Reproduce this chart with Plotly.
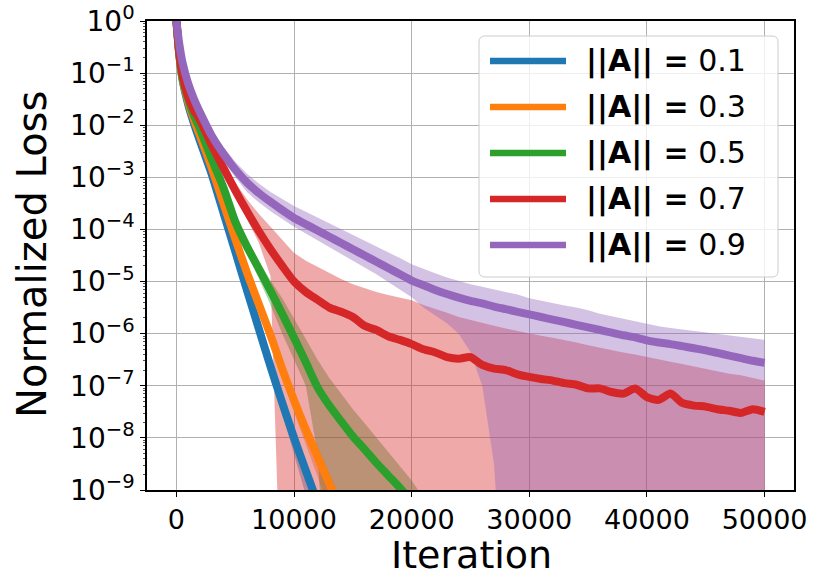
import numpy as np
import plotly.graph_objects as go

# DATOS: pérdida normalizada en log10 (media, borde superior e inferior de la banda)
# -12 significa que la banda llega a cero (queda por debajo del eje)

ETIQUETAS = ["0.1", "0.3", "0.5", "0.7", "0.9"]
COLORES = ["#1f77b4", "#ff7f0e", "#2ca02c", "#d62728", "#9467bd"]

ITER_01 = [0, 250, 500, 1000, 1500, 2000, 3000, 4000, 5000, 6000, 7000, 8000,
           9000, 10000, 11000, 12000, 13000]
LOG_MEDIA_01 = [0, -0.65, -1.10, -1.60, -1.97, -2.30, -2.94, -3.68, -4.42, -5.17,
                -5.90, -6.63, -7.33, -8.00, -8.63, -9.25, -9.90]
LOG_SUP_01 = [0, -0.63, -1.07, -1.56, -1.93, -2.26, -2.90, -3.63, -4.36, -5.10,
              -5.82, -6.54, -7.22, -7.88, -8.50, -9.10, -9.75]
LOG_INF_01 = [0, -0.67, -1.13, -1.64, -2.01, -2.34, -2.98, -3.73, -4.48, -5.25,
              -5.99, -6.75, -7.50, -8.30, -9.10, -12, -12]

ITER_03 = [0, 250, 500, 1000, 1500, 2000, 3000, 4000, 5000, 6000, 7000, 8000,
           9000, 10000, 11000, 12000, 13000, 14000]
LOG_MEDIA_03 = [0, -0.65, -1.08, -1.55, -1.90, -2.20, -2.82, -3.50, -4.18, -4.83,
                -5.43, -6.03, -6.68, -7.28, -7.84, -8.36, -8.88, -9.40]
LOG_SUP_03 = [0, -0.63, -1.05, -1.51, -1.86, -2.16, -2.77, -3.44, -4.11, -4.75,
              -5.33, -5.91, -6.54, -7.12, -7.66, -8.16, -8.68, -9.20]
LOG_INF_03 = [0, -0.67, -1.11, -1.59, -1.94, -2.24, -2.87, -3.56, -4.25, -4.92,
              -5.54, -6.17, -6.86, -7.51, -8.14, -8.74, -9.43, -12]

ITER_05 = [0, 250, 500, 1000, 1500, 2000, 3000, 4000, 5000, 6000, 7000, 8000,
           9000, 10000, 11000, 12000, 13000, 14000, 15000, 16000, 17000, 18000,
           19000, 20000, 21000]
LOG_MEDIA_05 = [0, -0.65, -1.07, -1.50, -1.82, -2.07, -2.65, -3.20, -3.85, -4.33,
                -4.75, -5.18, -5.62, -6.08, -6.55, -7.03, -7.38, -7.68, -7.97,
                -8.22, -8.48, -8.72, -8.96, -9.22, -9.50]
LOG_SUP_05 = [0, -0.63, -1.04, -1.46, -1.78, -2.03, -2.60, -3.14, -3.77, -4.22,
              -4.60, -4.98, -5.32, -5.70, -6.10, -6.50, -6.85, -7.15, -7.45,
              -7.72, -8.00, -8.28, -8.55, -8.82, -9.15]
LOG_INF_05 = [0, -0.67, -1.10, -1.54, -1.86, -2.11, -2.70, -3.26, -3.92, -4.45,
              -4.95, -5.45, -6.00, -6.50, -7.00, -8.30, -12, -12, -12,
              -12, -12, -12, -12, -12, -12]

ITER_LARGO = [0, 250, 500, 1000, 1500, 2000,
              3000, 4000, 5000, 6000, 7000, 8000, 9000, 10000,
              11000, 12000, 13000, 14000, 15000, 16000, 17000, 18000, 19000, 20000,
              21000, 22000, 23000, 24000, 25000, 26000, 27000, 28000, 29000, 30000,
              31000, 32000, 33000, 34000, 35000, 36000, 37000, 38000, 39000, 40000,
              41000, 42000, 43000, 44000, 45000, 46000, 47000, 48000, 49000, 50000]

LOG_MEDIA_07 = [0, -0.62, -1.00, -1.45, -1.72, -1.90,
                -2.38, -2.82, -3.25, -3.65, -4.03, -4.38, -4.70, -5.00,
                -5.20, -5.35, -5.50, -5.58, -5.68, -5.85, -5.93, -6.05, -6.12, -6.20,
                -6.30, -6.36, -6.45, -6.48, -6.45, -6.60, -6.67, -6.70, -6.78, -6.83,
                -6.87, -6.90, -6.95, -6.98, -7.05, -7.05, -7.12, -7.15, -7.05, -7.22,
                -7.27, -7.15, -7.33, -7.38, -7.40, -7.45, -7.48, -7.52, -7.45, -7.50]
LOG_SUP_07 = [0, -0.60, -0.97, -1.41, -1.68, -1.86,
              -2.32, -2.72, -3.10, -3.42, -3.70, -3.95, -4.20, -4.45,
              -4.60, -4.72, -4.84, -4.95, -5.05, -5.13, -5.20, -5.26, -5.31, -5.36,
              -5.45, -5.52, -5.60, -5.68, -5.74, -5.80, -5.85, -5.90, -5.95, -6.00,
              -6.04, -6.08, -6.12, -6.17, -6.22, -6.27, -6.31, -6.36, -6.40, -6.45,
              -6.50, -6.54, -6.58, -6.63, -6.68, -6.72, -6.77, -6.80, -6.85, -6.90]
LOG_INF_07 = [0, -0.64, -1.03, -1.49, -1.76, -1.94,
              -2.44, -2.90, -3.35, -3.80, -4.25, -4.90, -12, -12,
              -12, -12, -12, -12, -12, -12, -12, -12, -12, -12,
              -12, -12, -12, -12, -12, -12, -12, -12, -12, -12,
              -12, -12, -12, -12, -12, -12, -12, -12, -12, -12,
              -12, -12, -12, -12, -12, -12, -12, -12, -12, -12]

LOG_MEDIA_09 = [0, -0.45, -0.78, -1.20, -1.50, -1.75,
                -2.20, -2.55, -2.85, -3.10, -3.30, -3.47, -3.63, -3.78,
                -3.90, -4.02, -4.14, -4.26, -4.38, -4.50, -4.62, -4.74, -4.86, -4.98,
                -5.07, -5.16, -5.24, -5.31, -5.37, -5.42, -5.48, -5.53, -5.58, -5.63,
                -5.68, -5.73, -5.78, -5.83, -5.88, -5.93, -5.98, -6.03, -6.07, -6.13,
                -6.17, -6.20, -6.24, -6.28, -6.32, -6.37, -6.42, -6.47, -6.52, -6.56]
LOG_SUP_09 = [0, -0.43, -0.75, -1.16, -1.45, -1.69,
              -2.10, -2.42, -2.70, -2.93, -3.12, -3.28, -3.42, -3.55,
              -3.66, -3.77, -3.88, -3.99, -4.10, -4.21, -4.32, -4.44, -4.55, -4.67,
              -4.76, -4.84, -4.92, -4.99, -5.05, -5.10, -5.15, -5.20, -5.25, -5.32,
              -5.37, -5.42, -5.46, -5.50, -5.55, -5.62, -5.67, -5.72, -5.77, -5.82,
              -5.86, -5.89, -5.92, -5.95, -5.98, -6.01, -6.04, -6.07, -6.10, -6.12]
LOG_INF_09 = [0, -0.47, -0.81, -1.24, -1.55, -1.81,
              -2.30, -2.68, -3.00, -3.28, -3.48, -3.65, -3.80, -3.95,
              -4.08, -4.20, -4.33, -4.46, -4.60, -4.73, -4.86, -5.00, -5.15, -5.30,
              -5.50, -5.65, -5.80, -6.00, -6.35, -7.00, -8.50, -12, -12, -12,
              -12, -12, -12, -12, -12, -12, -12, -12, -12, -12,
              -12, -12, -12, -12, -12, -12, -12, -12, -12, -12]

SERIES = [
    (ITER_01, LOG_MEDIA_01, LOG_SUP_01, LOG_INF_01),
    (ITER_03, LOG_MEDIA_03, LOG_SUP_03, LOG_INF_03),
    (ITER_05, LOG_MEDIA_05, LOG_SUP_05, LOG_INF_05),
    (ITER_LARGO, LOG_MEDIA_07, LOG_SUP_07, LOG_INF_07),
    (ITER_LARGO, LOG_MEDIA_09, LOG_SUP_09, LOG_INF_09),
]

TICKS_X = [0, 10000, 20000, 30000, 40000, 50000]
TICKS_Y_EXP = [0, -1, -2, -3, -4, -5, -6, -7, -8, -9]

# Geometría del área de dibujo (en píxeles de la ventana del navegador)
ANCHO, ALTO = 830, 581
IZQ, DER, ARR, ABA = 147, 794, 21, 490


def papel_x(px):
    return (px - IZQ) / (DER - IZQ)


def papel_y(py):
    return (ABA - py) / (ABA - ARR)


def rgba(hex_color, alpha):
    r, g, b = int(hex_color[1:3], 16), int(hex_color[3:5], 16), int(hex_color[5:7], 16)
    return f"rgba({r},{g},{b},{alpha})"


def caja_redondeada(x0, y0, x1, y1, r):
    # Rectángulo con esquinas redondeadas en coordenadas de papel
    p = lambda x, y: f"{papel_x(x)},{papel_y(y)}"
    return (f"M{p(x0 + r, y0)} L{p(x1 - r, y0)} Q{p(x1, y0)} {p(x1, y0 + r)} "
            f"L{p(x1, y1 - r)} Q{p(x1, y1)} {p(x1 - r, y1)} L{p(x0 + r, y1)} "
            f"Q{p(x0, y1)} {p(x0, y1 - r)} L{p(x0, y0 + r)} Q{p(x0, y0)} {p(x0 + r, y0)} Z")


def construir_figura():
    fig = go.Figure()

    # Primero todas las bandas (desviación), luego las líneas encima
    for (it, media, sup, inf), color in zip(SERIES, COLORES):
        xs = list(it) + list(it)[::-1]
        ys = list(np.power(10.0, sup)) + list(np.power(10.0, inf))[::-1]
        fig.add_trace(go.Scatter(
            x=xs, y=ys, fill="toself", fillcolor=rgba(color, 0.4),
            line=dict(width=0), mode="lines", hoverinfo="skip", showlegend=False))

    for (it, media, sup, inf), color in zip(SERIES, COLORES):
        fig.add_trace(go.Scatter(
            x=it, y=np.power(10.0, media), mode="lines",
            line=dict(color=color, width=8, shape="spline", smoothing=0.6),
            showlegend=False))

    # Leyenda dibujada a mano (como la de matplotlib)
    formas = [dict(type="path", xref="paper", yref="paper", layer="above",
                   path=caja_redondeada(479, 36, 778, 277, 6),
                   fillcolor="rgba(255,255,255,0.8)", line=dict(color="#cccccc", width=1))]
    notas = []
    for i, (etq, color) in enumerate(zip(ETIQUETAS, COLORES)):
        py = 61 + i * 46
        formas.append(dict(type="line", xref="paper", yref="paper", layer="above",
                           x0=papel_x(490), x1=papel_x(566), y0=papel_y(py), y1=papel_y(py),
                           line=dict(color=color, width=6.5)))
        notas.append(dict(x=papel_x(584), y=papel_y(py), xref="paper", yref="paper",
                          xanchor="left", yanchor="middle", showarrow=False,
                          text=f"<b>||A|| =</b> {etq}",
                          font=dict(size=30, color="black", family="DejaVu Sans")))

    # Títulos de los ejes
    notas.append(dict(x=papel_x(471), y=papel_y(555), xref="paper", yref="paper",
                      xanchor="center", yanchor="middle", showarrow=False,
                      text="Iteration", font=dict(size=38, color="black")))
    notas.append(dict(x=papel_x(32), y=papel_y(255), xref="paper", yref="paper",
                      xanchor="center", yanchor="middle", showarrow=False, textangle=-90,
                      text="Normalized Loss", font=dict(size=40, color="black")))

    menores = [m * 10.0 ** e for e in range(-9, 0) for m in range(2, 10)]

    fig.update_layout(
        width=ANCHO, height=ALTO,
        margin=dict(l=IZQ, r=ANCHO - DER, t=ARR, b=ALTO - ABA, autoexpand=False),
        paper_bgcolor="white", plot_bgcolor="white",
        font=dict(family="DejaVu Sans", color="black"),
        shapes=formas, annotations=notas, showlegend=False,
        xaxis=dict(
            range=[-2500, 52500], tickvals=TICKS_X, ticktext=[str(t) for t in TICKS_X],
            automargin=False, ticklabeloverflow="allow",
            showgrid=True, gridcolor="#b0b0b0", gridwidth=1, zeroline=False,
            showline=True, linecolor="black", linewidth=1.5, mirror=True,
            ticks="outside", ticklen=5, tickcolor="black", tickfont=dict(size=27)),
        yaxis=dict(
            type="log", range=[-9, 0], automargin=False, ticklabeloverflow="allow",
            tickvals=[10.0 ** e for e in TICKS_Y_EXP],
            ticktext=[f"10<sup>{'−' if e < 0 else ''}{abs(e)}</sup>" for e in TICKS_Y_EXP],
            showgrid=True, gridcolor="#b0b0b0", gridwidth=1, zeroline=False,
            showline=True, linecolor="black", linewidth=1.5, mirror=True,
            ticks="outside", ticklen=5, tickcolor="black", tickfont=dict(size=28),
            minor=dict(tickvals=menores, ticks="outside", ticklen=2.5,
                       tickcolor="#555555", showgrid=False)),
    )
    return fig


def main():
    fig = construir_figura()
    # Quitamos el margen por defecto del <body> para que la figura ocupe toda la ventana
    fig.write_html("out.html", config={"displayModeBar": False},
                   post_script="document.body.style.margin='0px';")


if __name__ == "__main__":
    main()
